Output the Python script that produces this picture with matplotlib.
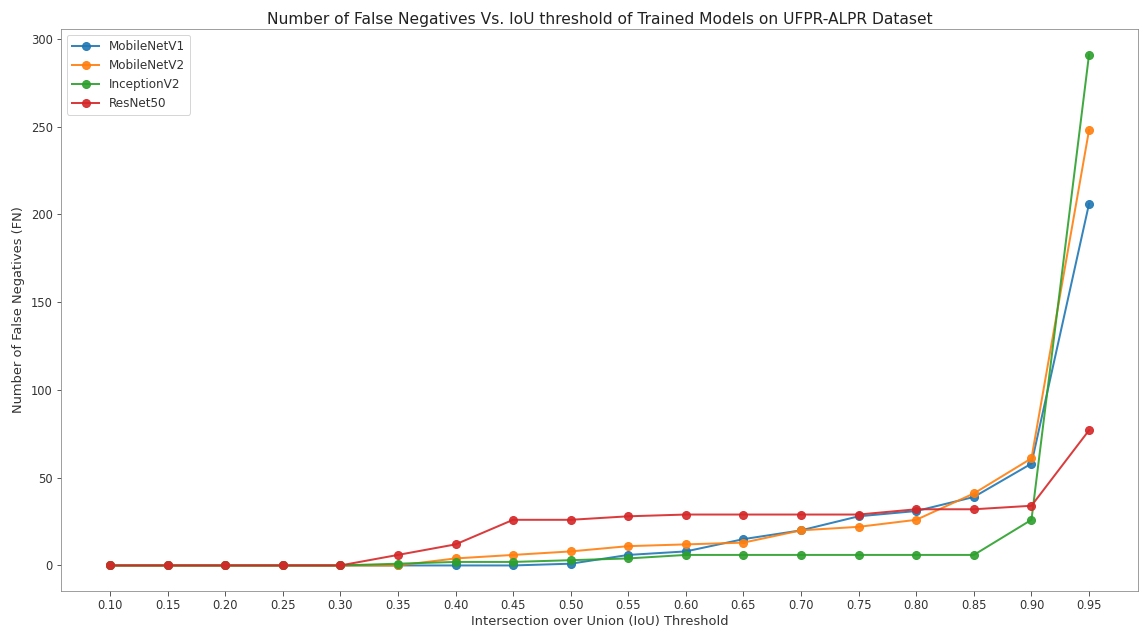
import numpy as np
import matplotlib
matplotlib.use("Agg")
import matplotlib.pyplot as plt

# IoU thresholds and false-negative counts
thresholds = [0.10, 0.15, 0.20, 0.25, 0.30, 0.35, 0.40, 0.45, 0.50,
              0.55, 0.60, 0.65, 0.70, 0.75, 0.80, 0.85, 0.90, 0.95]
fn_mobilenet_v1 = [0, 0, 0, 0, 0, 0, 0, 0, 1, 6, 8, 15, 20, 28, 31, 39, 58, 206]
fn_mobilenet_v2 = [0, 0, 0, 0, 0, 0, 4, 6, 8, 11, 12, 13, 20, 22, 26, 41, 61, 248]
fn_inception_v2 = [0, 0, 0, 0, 0, 1, 2, 2, 3, 4, 6, 6, 6, 6, 6, 6, 26, 291]
fn_resnet50 = [0, 0, 0, 0, 0, 6, 12, 26, 26, 28, 29, 29, 29, 29, 32, 32, 34, 77]

series = {
    "MobileNetV1": fn_mobilenet_v1,
    "MobileNetV2": fn_mobilenet_v2,
    "InceptionV2": fn_inception_v2,
    "ResNet50": fn_resnet50,
}
colors = ["#1f77b4", "#ff7f0e", "#2ca02c", "#d62728"]

fig = plt.figure(figsize=(1143 / 72, 643 / 72), dpi=72)
ax = fig.add_axes([61 / 1143, 1 - 591 / 643, (1138 - 61) / 1143, (591 - 29) / 643])

for (name, vals), col in zip(series.items(), colors):
    ax.plot(thresholds, vals, marker="o", color=col, label=name,
            alpha=0.9, linewidth=2, markersize=8)

ax.set_xticks(thresholds)
ax.set_xticklabels([f"{t:.2f}" for t in thresholds])
ax.tick_params(labelsize=11.5, length=4.5, colors="#333333")
for s in ax.spines.values():
    s.set_color("#888888")
ax.set_title("Number of False Negatives Vs. IoU threshold of Trained Models on UFPR-ALPR Dataset",
             fontsize=15.5, color="#222222", pad=5)
ax.set_xlabel("Intersection over Union (IoU) Threshold", fontsize=13, color="#333333", labelpad=3)
ax.set_ylabel("Number of False Negatives (FN)", fontsize=13, color="#333333", labelpad=6)
leg = ax.legend(loc="upper left", fontsize=12, handlelength=2.3)
for t in leg.get_texts():
    t.set_color("#333333")

plt.savefig("out.png", dpi=72)
